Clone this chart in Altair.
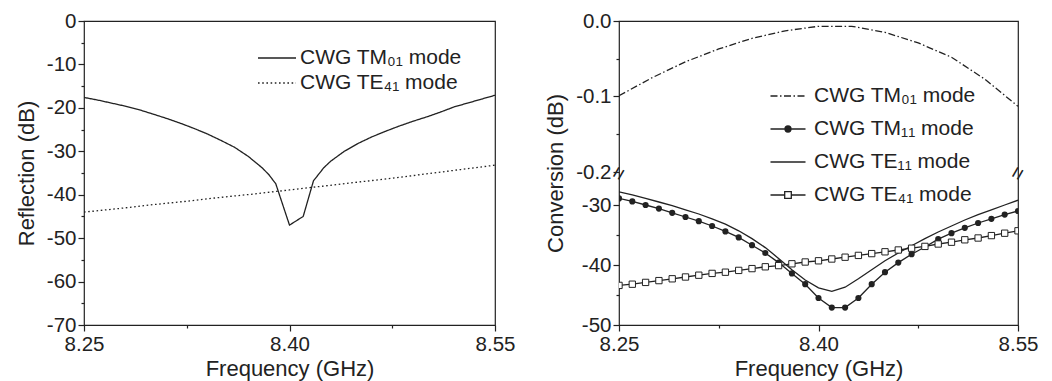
import altair as alt
import pandas as pd

FONT = "Liberation Sans"
INK = "#222222"

# ---------------- Left panel: reflection (dB) ----------------
REFL_TM01_FREQ = [8.25, 8.26, 8.27, 8.28, 8.29, 8.30, 8.31, 8.32, 8.33, 8.34, 8.35, 8.36,
                  8.37, 8.38, 8.385, 8.39, 8.40, 8.41, 8.4175, 8.425, 8.43, 8.44, 8.45,
                  8.46, 8.47, 8.48, 8.49, 8.50, 8.51, 8.52, 8.53, 8.54, 8.55]
REFL_TM01_DB = [-17.6, -18.2, -18.9, -19.6, -20.4, -21.4, -22.4, -23.5, -24.7, -26.0, -27.5, -29.1,
                -31.2, -33.8, -35.4, -37.5, -47.0, -45.0, -36.8, -33.8, -32.3, -30.0, -28.2,
                -26.7, -25.4, -24.2, -23.1, -22.1, -21.0, -19.8, -18.9, -18.0, -17.1]
REFL_TE41_FREQ = [8.25, 8.275, 8.30, 8.325, 8.35, 8.375, 8.40, 8.425, 8.45, 8.475, 8.50, 8.525, 8.55]
REFL_TE41_DB = [-44.0, -43.2, -42.3, -41.5, -40.6, -39.8, -38.9, -38.0, -37.1, -36.2, -35.2, -34.2, -33.2]

# ---------------- Right panel: conversion (dB) ----------------
CONV_TM01_FREQ = [8.25, 8.275, 8.30, 8.325, 8.35, 8.375, 8.40, 8.425, 8.45, 8.475, 8.50, 8.525, 8.55]
CONV_TM01_DB = [-0.099, -0.075, -0.054, -0.037, -0.023, -0.013, -0.007, -0.007, -0.015, -0.029,
                -0.048, -0.077, -0.113]
CONV_FREQ = [8.25, 8.26, 8.27, 8.28, 8.29, 8.30, 8.31, 8.32, 8.33, 8.34, 8.35, 8.36, 8.37, 8.38,
             8.39, 8.40, 8.41, 8.42, 8.43, 8.44, 8.45, 8.46, 8.47, 8.48, 8.49, 8.50, 8.51, 8.52,
             8.53, 8.54, 8.55]
CONV_TM11_DB = [-28.9, -29.4, -30.0, -30.6, -31.3, -32.0, -32.7, -33.5, -34.4, -35.4, -36.7, -38.0,
                -39.6, -41.4, -43.2, -45.5, -47.1, -47.1, -45.5, -43.2, -41.2, -39.6, -38.2, -37.0,
                -35.7, -34.7, -33.8, -33.0, -32.3, -31.6, -31.0]
CONV_TE11_DB = [-27.8, -28.3, -28.9, -29.5, -30.1, -30.8, -31.5, -32.3, -33.2, -34.3, -35.6, -37.1,
                -38.9, -40.8, -42.5, -43.8, -44.4, -43.7, -42.3, -40.8, -39.3, -38.0, -36.8, -35.6,
                -34.5, -33.5, -32.5, -31.6, -30.8, -30.0, -29.2]
CONV_TE41_DB = [-43.4, -43.2, -42.9, -42.6, -42.3, -42.0, -41.7, -41.4, -41.2, -40.9, -40.6, -40.3,
                -40.1, -39.8, -39.5, -39.3, -39.0, -38.7, -38.4, -38.1, -37.8, -37.5, -37.2, -36.9,
                -36.5, -36.2, -35.8, -35.5, -35.1, -34.7, -34.3]

LEFT_NAMES = ["CWG TM\u2080\u2081 mode", "CWG TE\u2084\u2081 mode"]
RIGHT_NAMES = ["CWG TM\u2080\u2081 mode", "CWG TM\u2081\u2081 mode", "CWG TE\u2081\u2081 mode",
               "CWG TE\u2084\u2081 mode"]

X_TICKS = [8.25, 8.325, 8.40, 8.475, 8.55]
X_MAJOR = [8.25, 8.40, 8.55]
LEFT_Y_TICKS = [0, -5, -10, -15, -20, -25, -30, -35, -40, -45, -50, -55, -60, -65, -70]
RIGHT_TOP_TICKS = [0.0, -0.05, -0.1, -0.15, -0.2]
RIGHT_TOP_MAJOR = [0.0, -0.1, -0.2]
RIGHT_LOW_TICKS = [-30, -35, -40, -45, -50]
RIGHT_LOW_MAJOR = [-30, -40, -50]

# broken-axis layout of the conversion panel (top: 0 .. -0.2 dB, bottom: -25 .. -50 dB)
TOP_SPAN_DB = 0.2
TOP_UNITS = 151.0
GAP_UNITS = 3.0
LOW_START_DB = -25.0
LOW_UNITS_PER_DB = 6.0
TOTAL_UNITS = TOP_UNITS + GAP_UNITS + 25.0 * LOW_UNITS_PER_DB


def disp(v):
    if v > -1:
        return v / TOP_SPAN_DB * TOP_UNITS
    return -(TOP_UNITS + GAP_UNITS) - (LOW_START_DB - v) * LOW_UNITS_PER_DB


DISP_EXPR = (f"datum.db > -1 ? datum.db / {TOP_SPAN_DB} * {TOP_UNITS} : "
             f"-({TOP_UNITS + GAP_UNITS}) - ({LOW_START_DB} - datum.db) * {LOW_UNITS_PER_DB}")
BREAK_FREQ = [8.25, 8.55]
BREAK_DISP = -(TOP_UNITS + GAP_UNITS / 2)

W_LEFT, W_RIGHT, H = 411, 399, 304

# ---------------- data frames ----------------
refl_df = pd.concat([
    pd.DataFrame({"freq": REFL_TM01_FREQ, "db": REFL_TM01_DB, "series": LEFT_NAMES[0]}),
    pd.DataFrame({"freq": REFL_TE41_FREQ, "db": REFL_TE41_DB, "series": LEFT_NAMES[1]}),
], ignore_index=True)

conv_df = pd.concat([
    pd.DataFrame({"freq": CONV_TM01_FREQ, "db": CONV_TM01_DB, "series": RIGHT_NAMES[0]}),
    pd.DataFrame({"freq": CONV_FREQ, "db": CONV_TM11_DB, "series": RIGHT_NAMES[1]}),
    pd.DataFrame({"freq": CONV_FREQ, "db": CONV_TE11_DB, "series": RIGHT_NAMES[2]}),
    pd.DataFrame({"freq": CONV_FREQ, "db": CONV_TE41_DB, "series": RIGHT_NAMES[3]}),
], ignore_index=True)

# ---------------- axes ----------------
def in_list_expr(vals):
    return "indexof([" + ",".join(repr(float(v)) for v in vals) + "], datum.value) >= 0"


x_minor_blank = " || ".join(f"datum.value == {v}" for v in X_TICKS if v not in X_MAJOR)
x_axis = alt.Axis(
    values=X_TICKS,
    labelExpr=f"({x_minor_blank}) ? '' : format(datum.value, '.2f')",
    tickSize={"condition": {"test": in_list_expr(X_MAJOR), "value": 6}, "value": 3},
    labelPadding=3, titlePadding=4,
    title="Frequency (GHz)",
)
x_scale = alt.Scale(domain=[8.25, 8.55], nice=False, zero=False)

left_y_axis = alt.Axis(
    values=LEFT_Y_TICKS,
    labelExpr="datum.value % 10 == 0 ? toString(datum.value) : ''",
    tickSize={"condition": {"test": "datum.value % 10 == 0", "value": 6}, "value": 3},
    title="Reflection (dB)",
)

right_tick_vals = [disp(v) for v in RIGHT_TOP_TICKS + RIGHT_LOW_TICKS]
right_major_vals = [disp(v) for v in RIGHT_TOP_MAJOR + RIGHT_LOW_MAJOR]
right_labels = ([f"{v:.1f}" for v in RIGHT_TOP_MAJOR] + [f"{v:d}" for v in RIGHT_LOW_MAJOR])
expr = "''"
for dv, lab in zip(reversed(right_major_vals), reversed(right_labels)):
    expr = f"datum.value == {dv!r} ? '{lab}' : ({expr})"
right_y_axis = alt.Axis(
    values=right_tick_vals,
    labelExpr=expr,
    tickSize={"condition": {"test": in_list_expr(right_major_vals), "value": 6}, "value": 3},
    title="Conversion (dB)",
)

# ---------------- legend symbols (unit box scaled by symbolSize) ----------------
P_LONG = "M-1.9,0L1.9,0"
P_SOLID = "M-1.75,0L1.75,0"
P_DASHDOT = ("M-1.75,0L-1.05,0M-0.8,0L-0.65,0M-0.4,0L0.3,0M0.55,0L0.7,0M0.95,0L1.65,0")
P_CIRCLE = ("M-1.75,0L1.75,0"
            "M0.3,0A0.3,0.3,0,1,1,-0.3,0A0.3,0.3,0,1,1,0.3,0"
            "M0.2,0A0.2,0.2,0,1,1,-0.2,0A0.2,0.2,0,1,1,0.2,0"
            "M0.1,0A0.1,0.1,0,1,1,-0.1,0A0.1,0.1,0,1,1,0.1,0")
P_SQUARE = ("M-1.75,0L-0.33,0M0.33,0L1.75,0"
            "M-0.33,-0.33L0.33,-0.33L0.33,0.33L-0.33,0.33Z")

LEG_COMMON = dict(title=None, orient="none", symbolSize=400, symbolStrokeWidth=1.3,
                  labelFont=FONT, labelFontSize=21, labelColor=INK, labelLimit=500)

# ---------------- left chart ----------------
left_y_scale = alt.Scale(domain=[-70, 0], nice=False, zero=False)
left = alt.Chart(refl_df).mark_line(strokeWidth=1.3, clip=True, color=INK).encode(
    x=alt.X("freq:Q", scale=x_scale, axis=x_axis),
    y=alt.Y("db:Q", scale=left_y_scale, axis=left_y_axis),
    strokeDash=alt.StrokeDash(
        "series:N",
        scale=alt.Scale(domain=LEFT_NAMES, range=[[1, 0], [1.6, 2.6]]),
        legend=alt.Legend(legendX=182, legendY=26, symbolType=P_LONG, labelOffset=12,
                          rowPadding=4, **LEG_COMMON)),
).properties(width=W_LEFT, height=H)

# ---------------- right chart ----------------
right_y_scale = alt.Scale(domain=[-TOTAL_UNITS, 0], nice=False, zero=False)
right_base = alt.Chart(conv_df).transform_calculate(disp=DISP_EXPR)
right_dashdot = right_base.transform_filter(
    alt.datum.series == RIGHT_NAMES[0]).mark_line(
    strokeWidth=1.3, clip=True, color=INK, strokeDash=[7, 2.5, 1.5, 2.5]).encode(
    x=alt.X("freq:Q", scale=x_scale, axis=x_axis),
    y=alt.Y("disp:Q", scale=right_y_scale, axis=right_y_axis),
)
right_solid = right_base.transform_filter(
    alt.datum.series != RIGHT_NAMES[0]).mark_line(
    strokeWidth=1.3, clip=True, color=INK).encode(
    x=alt.X("freq:Q", scale=x_scale, axis=x_axis),
    y=alt.Y("disp:Q", scale=right_y_scale, axis=right_y_axis),
    detail="series:N",
)
right_circles = right_base.transform_filter(
    alt.datum.series == RIGHT_NAMES[1]).mark_point(
    shape="circle", filled=True, size=38, color=INK, opacity=1, clip=True).encode(
    x=alt.X("freq:Q", scale=x_scale, axis=x_axis),
    y=alt.Y("disp:Q", scale=right_y_scale, axis=right_y_axis),
)
right_squares = right_base.transform_filter(
    alt.datum.series == RIGHT_NAMES[3]).mark_point(
    shape="square", filled=True, size=40, fill="white", stroke=INK, strokeWidth=1,
    opacity=1, clip=True).encode(
    x=alt.X("freq:Q", scale=x_scale, axis=x_axis),
    y=alt.Y("disp:Q", scale=right_y_scale, axis=right_y_axis),
)
break_df = pd.DataFrame({"freq": BREAK_FREQ, "disp": [BREAK_DISP] * len(BREAK_FREQ)})
right_breaks = alt.Chart(break_df).mark_text(
    text="=", angle=300, fontSize=22, font=FONT, color=INK).encode(
    x=alt.X("freq:Q", scale=x_scale, axis=x_axis),
    y=alt.Y("disp:Q", scale=right_y_scale, axis=right_y_axis),
)
# legend-only layer: one transparent point per legend entry
leg_df = pd.DataFrame({"entry": RIGHT_NAMES, "freq": [8.40] * 4, "disp": [-100.0] * 4})
right_leg = alt.Chart(leg_df).mark_point(opacity=0, color=INK, strokeWidth=1.3).encode(
    x=alt.X("freq:Q", scale=x_scale, axis=x_axis),
    y=alt.Y("disp:Q", scale=right_y_scale, axis=right_y_axis),
    shape=alt.Shape("entry:N",
                    scale=alt.Scale(domain=RIGHT_NAMES,
                                    range=[P_DASHDOT, P_CIRCLE, P_SOLID, P_SQUARE]),
                    legend=alt.Legend(legendX=158, legendY=64, labelOffset=15, rowPadding=12,
                                      symbolOpacity=1, symbolStrokeColor=INK,
                                      **LEG_COMMON)),
)
right = alt.layer(right_dashdot, right_solid, right_circles, right_squares, right_breaks,
                  right_leg).properties(width=W_RIGHT, height=H)

chart = alt.hconcat(left, right, spacing=28).resolve_scale(
    strokeDash="independent", shape="independent"
).properties(
    padding={"left": 6, "top": 2, "right": 0, "bottom": 0}
).configure_view(
    stroke=INK, strokeWidth=1.2
).configure_axis(
    grid=False, domain=False, labelFont=FONT, labelFontSize=20.5, labelColor=INK,
    titleFont=FONT, titleFontSize=22, titleFontWeight="normal", titleColor=INK,
    tickColor=INK, tickWidth=1.2, labelPadding=2, titlePadding=8,
    labelFlush=False, labelOverlap=False,
)

chart.save("out.html", embed_options={"renderer": "svg", "actions": False})
